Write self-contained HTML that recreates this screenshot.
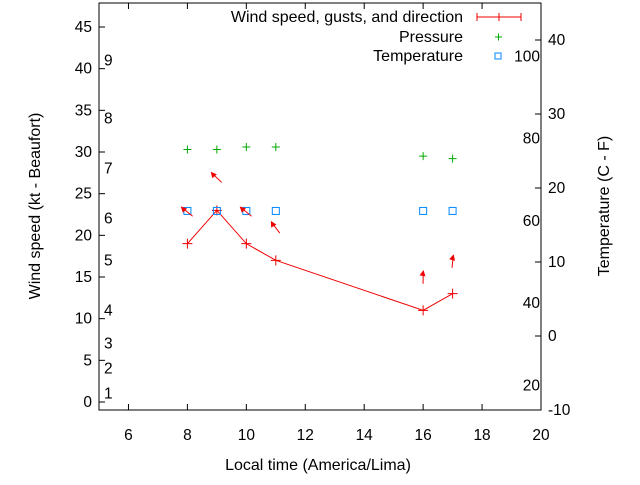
<!DOCTYPE html>
<html><head><meta charset="utf-8"><style>
body{margin:0;background:#fff}
svg text{font-family:"Liberation Sans",sans-serif;font-size:15.5px;fill:#000}
svg text.big{font-size:16px}
</style></head><body>
<svg width="640" height="480" xmlns="http://www.w3.org/2000/svg">
<g id="axes"></g><g id="marks"></g>
<rect x="99" y="3" width="442" height="407" fill="none" stroke="#000"/>
<text class="big" transform="translate(40 206) rotate(-90)" text-anchor="middle">Wind speed (kt - Beaufort)</text>
<text class="big" x="318" y="470" text-anchor="middle">Local time (America/Lima)</text>
<text class="big" transform="translate(609 206) rotate(-90)" text-anchor="middle">Temperature (C - F)</text>
<g>
<text class="big" x="463" y="22" text-anchor="end">Wind speed, gusts, and direction</text>
<path d="M477 17H521M477 13V21M521 13V21M499 13V21" stroke="#e00" fill="none"/>
<text class="big" x="463" y="42" text-anchor="end">Pressure</text>
<path d="M495 37H502M498.5 33.5V40.5" stroke="#0a0"/>
<text class="big" x="463" y="61" text-anchor="end">Temperature</text>
<rect x="495" y="53" width="6" height="6" fill="none" stroke="#08f"/>
</g>
</svg>
<script>
const times=[8,9,10,11,16,17];
const wind=[19,23,19,17,11,13];
const pressure=[30.3,30.3,30.6,30.6,29.5,29.2];
const temperature=[16.9,16.9,16.9,16.9,16.9,16.9];
const arrowY=[22.8,26.9,22.8,20.9,14.9,16.8];
const arrowDir=[315,320,315,330,10,15];
const xTicks=[6,8,10,12,14,16,18,20];
const yTicks=[0,5,10,15,20,25,30,35,40,45];
const y2Ticks=[-10,0,10,20,30,40];
const beaufort=[[1,1],[2,4],[3,7],[4,11],[5,17],[6,22],[7,28],[8,34],[9,41]];
const fahr=[20,40,60,80,100];
const NS="http://www.w3.org/2000/svg";
const X=v=>99+(v-5)*442/15, Y=v=>402-v*375/45, Y2=v=>410-(v+10)*407/55;
const ax=document.getElementById('axes'), mk=document.getElementById('marks');
function el(t,a,p,txt){const e=document.createElementNS(NS,t);for(const k in a)e.setAttribute(k,a[k]);if(txt!==undefined)e.textContent=txt;p.appendChild(e);return e;}
xTicks.forEach(t=>{const x=X(t);
 const e=el('path',{d:`M${x} 410v-6M${x} 3v6`,stroke:'#000'},ax);
 
 
 const l=el('text',{x:x,y:440,'text-anchor':'middle'},ax,t);
 
 });
yTicks.forEach(t=>{const y=Y(t);
 el('path',{d:`M99 ${y}h6`,stroke:'#000'},ax);
 const l=el('text',{x:92,y:y+5,'text-anchor':'end'},ax,t);
 
 });
y2Ticks.forEach(t=>{const y=Y2(t);
 el('path',{d:`M541 ${y}h-6`,stroke:'#000'},ax);
 const l=el('text',{x:548,y:y+5},ax,t);
 
 });
beaufort.forEach(b=>{const l=el('text',{x:104,y:Y(b[1])+5},ax,b[0]);
 
 });
fahr.forEach(f=>{const c=(f-32)*5/9;const l=el('text',{x:540,y:Y2(c)+5,'text-anchor':'end'},ax,f);
 
 });
const line=el('polyline',{points:times.map((t,i)=>X(t)+','+Y(wind[i])).join(' '),fill:'none',stroke:'#e00'},mk);


times.forEach((t,i)=>{const x=X(t),y=Y(wind[i]);
 const w=el('path',{d:`M${x-5} ${y}h10M${x} ${y-5}v10`,stroke:'#e00'},mk);
 
 
 const py=Y(pressure[i]);
 const p=el('path',{d:`M${x-4} ${py}h8M${x} ${py-4}v8`,stroke:'#0a0'},mk);
 
 
 const ty=Y2(temperature[i]);
 const s=el('rect',{x:x-3.5,y:ty-3.5,width:7,height:7,fill:'none',stroke:'#08f'},mk);
 
 
 const ay=Y(arrowY[i]),a=arrowDir[i]*Math.PI/180,dx=Math.sin(a),dy=-Math.cos(a);
 const hx=x+dx*6-1,hy=ay+dy*6,tx=x-dx*6+1,tyy=ay-dy*6;
 const px=-dy,pyy=dx;
 const g=el('g',{},mk);
 
 
 el('line',{x1:tx,y1:tyy,x2:hx,y2:hy,stroke:'#e00'},g);
 el('polygon',{points:`${hx+dx*2},${hy+dy*2} ${hx-dx*4+px*3},${hy-dy*4+pyy*3} ${hx-dx*4-px*3},${hy-dy*4-pyy*3}`,fill:'#e00'},g);
});
</script>
</body></html>
